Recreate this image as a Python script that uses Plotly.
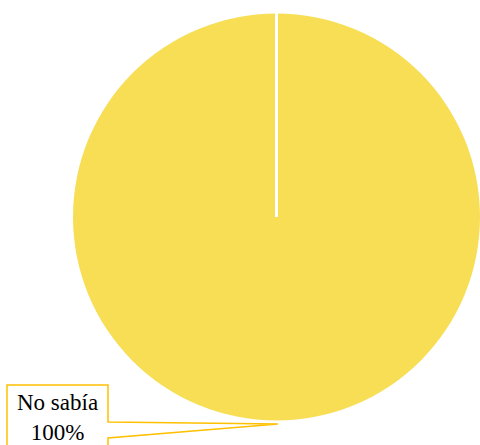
import plotly.graph_objects as go

categories = ["No sabía"]
values = [100]
percent_labels = ["100%"]
colors = ["#F7DE55"]

W, H = 480, 445

def px(x, y):
    return x / W, 1 - y / H

fig = go.Figure()
fig.add_trace(go.Pie(
    labels=categories, values=values,
    marker=dict(colors=colors, line=dict(width=0)),
    textinfo="none", sort=False, direction="clockwise", rotation=0,
    domain=dict(x=[73 / W, 1.0], y=[1 - 421 / H, 1 - 13 / H]),
    showlegend=False, hoverinfo="label+percent",
))

# white slice boundary (top to centre)
cx, cy = (73 + 480) / 2, 217
x0, y0 = px(cx, cy)
x1, y1 = px(cx, 13)
fig.add_shape(type="line", xref="paper", yref="paper", x0=x0, y0=y0, x1=x1, y1=y1,
              line=dict(color="white", width=3))

# callout box with wedge
pts = [(108, 422), (108, 385), (7, 385), (7, 460), (108, 460), (108, 438), (278, 424)]
path = "M " + " L ".join(f"{px(a,b)[0]:.5f},{px(a,b)[1]:.5f}" for a, b in pts) + " Z"
fig.add_shape(type="path", xref="paper", yref="paper", path=path,
              fillcolor="white", line=dict(color="#FFC000", width=1.5))

tx, ty = px(57.5, 417)
fig.add_annotation(xref="paper", yref="paper", x=tx, y=ty,
                   text=f"{categories[0]}<br>{percent_labels[0]}",
                   showarrow=False, xanchor="center", yanchor="middle",
                   font=dict(family="Liberation Serif", size=23, color="#000000"))

fig.update_layout(width=W, height=H, margin=dict(l=0, r=0, t=0, b=0),
                  paper_bgcolor="white", plot_bgcolor="white")
fig.write_html("out.html", config={"displayModeBar": False},
               post_script="document.body.style.margin='0';document.body.style.overflow='hidden';")
